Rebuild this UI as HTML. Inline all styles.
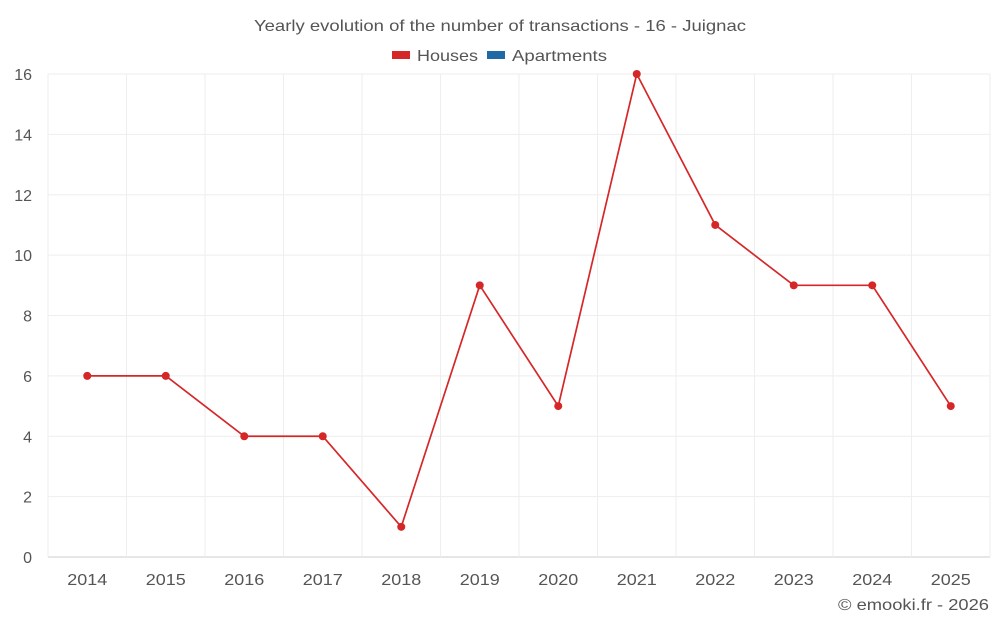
<!DOCTYPE html>
<html><head><meta charset="utf-8"><style>
body{margin:0;background:#fff;font-family:"Liberation Sans",sans-serif}
svg text{font-family:"Liberation Sans",sans-serif}
</style></head><body>
<svg id="chart" width="1000" height="625">
<text x="254" y="31" textLength="492" lengthAdjust="spacingAndGlyphs" font-size="16" fill="#555">Yearly evolution of the number of transactions - 16 - Juignac</text>
<g><rect x="392" y="51" width="18" height="8" fill="#d62728"/><text x="417" y="61" textLength="61" lengthAdjust="spacingAndGlyphs" font-size="16" fill="#555">Houses</text></g>
<g><rect x="487" y="51" width="18" height="8" fill="#1f6aa5"/><text x="512" y="61" textLength="95" lengthAdjust="spacingAndGlyphs" font-size="16" fill="#555">Apartments</text></g>
<g id="grid"></g><g id="axes"></g><g id="series"></g>
<text x="838" y="610" textLength="151" lengthAdjust="spacingAndGlyphs" font-size="16" fill="#555">© emooki.fr - 2026</text>
</svg>
<script>
const categories=["2014","2015","2016","2017","2018","2019","2020","2021","2022","2023","2024","2025"];
const houses=[6,6,4,4,1,9,5,16,11,9,9,5];
const yTicks=[0,2,4,6,8,10,12,14,16];
const L=48,R=990,T=74,B=557,ymax=16;
const bw=(R-L)/categories.length;
const x=i=>L+bw*(i+0.5);
const y=v=>B-(v/ymax)*(B-T);
const ns="http://www.w3.org/2000/svg";
function mk(p,t,a){const e=document.createElementNS(ns,t);for(const k in a)e.setAttribute(k,a[k]);p.appendChild(e);return e;}
const grid=document.getElementById('grid'),axes=document.getElementById('axes'),ser=document.getElementById('series');
yTicks.forEach(v=>{
 const l=mk(grid,'line',{x1:L,x2:R,y1:y(v),y2:y(v),stroke:v===0?'#ccc':'#eee'});
 
 
 const t=mk(axes,'text',{x:32,y:y(v)+6,'text-anchor':'end','font-size':16,fill:'#555'});
 t.textContent=v;
 
 
});
for(let i=0;i<=categories.length;i++){
 const l=mk(grid,'line',{x1:L+bw*i,x2:L+bw*i,y1:T,y2:B,stroke:'#eee'});
 
 
}
categories.forEach((c,i)=>{
 const t=mk(axes,'text',{x:x(i)-20,y:585,textLength:40,lengthAdjust:'spacingAndGlyphs','font-size':16,fill:'#555'});
 t.textContent=c;
 
 
});
const pl=mk(ser,'polyline',{points:houses.map((v,i)=>x(i)+','+y(v)).join(' '),fill:'none',stroke:'#d62728','stroke-width':1.7});


houses.forEach((v,i)=>{
 const c=mk(ser,'circle',{cx:x(i),cy:y(v),r:4,fill:'#d62728'});
 
 
});
</script>
</body></html>
